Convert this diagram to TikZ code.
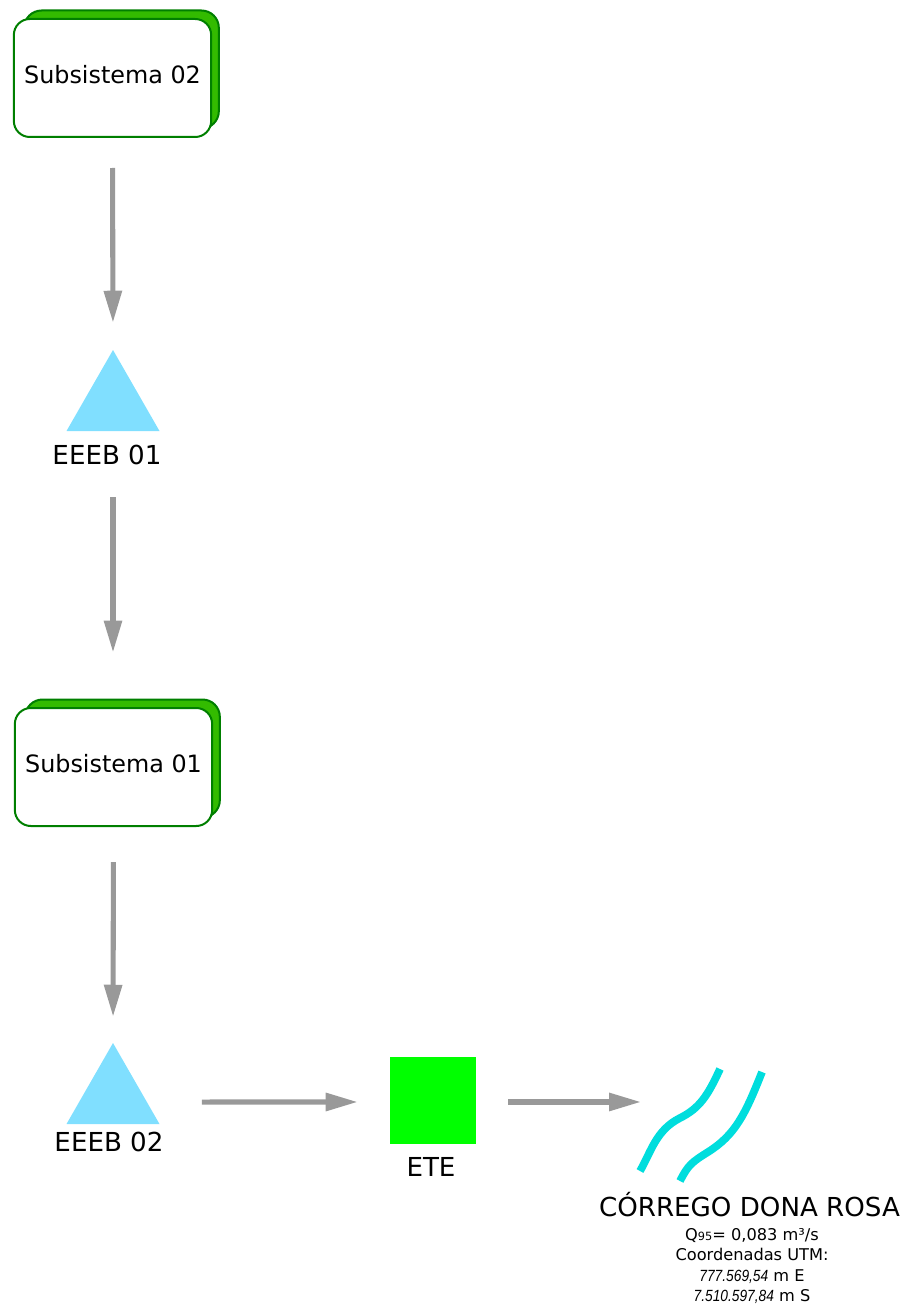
\documentclass[tikz,border=0pt]{standalone}
\usepackage{fontspec}
\setmainfont{DejaVu Sans}
\newfontfamily\numfont[FakeStretch=0.85]{Liberation Sans}
\usetikzlibrary{arrows.meta}
\definecolor{flowgrey}{HTML}{999999}
\definecolor{boxback}{HTML}{33BB00}
\definecolor{boxedge}{HTML}{007F00}
\definecolor{pumpblue}{HTML}{80DFFF}
\definecolor{etegreen}{HTML}{00FF00}
\definecolor{streamcyan}{HTML}{00DDDD}
\tikzset{
  x=0.75pt,y=-0.75pt,
  flow/.style={draw=flowgrey,line width=3.8pt,-{Triangle[length=24pt,width=13pt,fill=flowgrey]}},
  subfront/.style={draw=boxedge,fill=white,line width=1.5pt,rounded corners=12pt,minimum width=148pt,minimum height=88.5pt,inner sep=0pt,font=\fontsize{17.9}{20}\selectfont},
  subback/.style={draw=boxedge,fill=boxback,line width=1.5pt,rounded corners=13pt,minimum width=146pt,minimum height=88.5pt,inner sep=0pt},
  pump/.style={minimum width=69.75pt,minimum height=60.75pt,inner sep=0pt,path picture={\fill[pumpblue] (path picture bounding box.south west) -- (path picture bounding box.south east) -- (path picture bounding box.north) -- cycle;}},
  ete/.style={fill=etegreen,minimum width=64.5pt,minimum height=65.25pt,inner sep=0pt},
  lbl/.style={inner sep=0pt,font=\fontsize{19.6}{22}\selectfont},
  lblbig/.style={inner sep=0pt,font=\fontsize{19.6}{22}\selectfont},
  info/.style={inner sep=0pt,align=center,font=\fontsize{12.15}{15.1}\selectfont},
  stream/.style={draw=streamcyan,line width=5.8pt}
}
\begin{document}
\begin{tikzpicture}
\useasboundingbox (0,0) rectangle (906,1309);
\node[subback] (s2b) at (121.5,69.5) {};
\node[subfront] (s2) at (112.5,78) {\raisebox{5.25pt}{Subsistema 02}};
\node[subback] (s1b) at (122.5,758.5) {};
\node[subfront] (s1) at (113.5,767) {\raisebox{5.25pt}{Subsistema 01}};
\node[pump] (p1) at (113,390.5) {};
\node[lbl] (p1t) at (107,455) {EEEB 01};
\node[pump] (p2) at (113,1083.5) {};
\node[lbl] (p2t) at (109,1142) {EEEB 02};
\node[ete] (e) at (433,1100.5) {};
\node[lbl] (et) at (431,1167) {ETE};
\coordinate (c1) at (640,1171);
\coordinate (c2) at (720,1069);
\coordinate (c3) at (680,1181);
\coordinate (c4) at (762,1072);
\draw[stream] (c1) .. controls (651,1152) and (656,1130) .. (680,1118) .. controls (700,1108) and (708,1095) .. (c2);
\draw[stream] (c3) .. controls (688,1165) and (692,1162) .. (708,1152) .. controls (735,1135) and (745,1115) .. (c4);
\node[lblbig] (rio) at (749.5,1205) {CÓRREGO DONA ROSA};
\node[info] (inf) at (752,1266) {Q{\fontsize{8.5}{10}\selectfont 95}= 0,083 m³/s\\Coordenadas UTM:\\{\numfont\itshape 777.569,54} m E\\{\numfont\itshape 7.510.597,84} m S};
\draw[flow,shorten <=22.5pt,shorten >=20.25pt] (s2.south) -- (p1.north);
\draw[flow,shorten <=18pt,shorten >=34.5pt] ([yshift=-31.5pt]p1.south) -- (p1.south |- s1b.north);
\draw[flow,shorten <=26.25pt,shorten >=19.5pt] (s1.south) -- (p2.north);
\draw[flow,shorten <=31.5pt,shorten >=24pt] ([yshift=-13.9pt]p2.east) -- ([yshift=-1.1pt]e.west);
\draw[flow,shorten <=24pt,shorten >=-0.75pt] ([yshift=-1.1pt]e.east) -- ([yshift=-1.1pt]c1 |- e.east);
\end{tikzpicture}
\end{document}
